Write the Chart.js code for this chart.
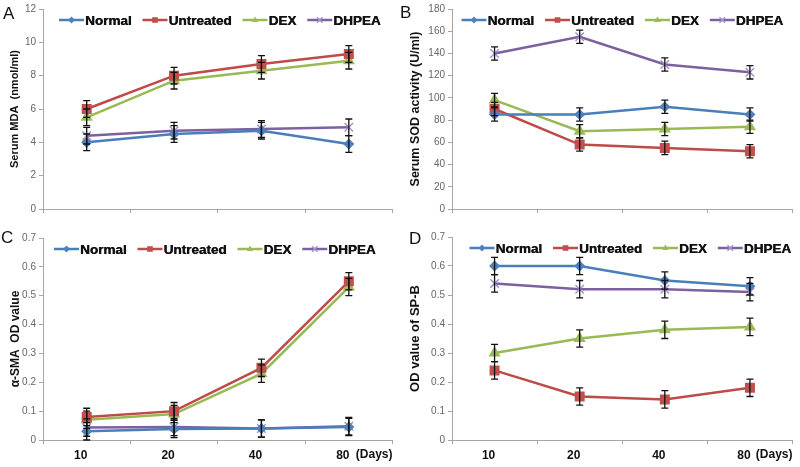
<!DOCTYPE html>
<html lang="en">
<head>
<meta charset="UTF-8">
<title>MDA, SOD, a-SMA and SP-B over time</title>
<script src="https://cdn.jsdelivr.net/npm/chart.js"></script>
<style>
    body {
        margin: 0;
        background: #fff;
        font-family: Arial, "Liberation Sans", sans-serif;
    }
    #page {
        position: relative;
        width: 800px;
        height: 467px;
        overflow: hidden;
    }
    .panel {
        position: absolute;
    }
    .letter {
        position: absolute;
        font-size: 17px;
        line-height: 1;
        color: #111;
    }
</style>
</head>
<body>
<div id="page">
    <div class="panel" style="left:0;top:0;width:400px;height:218px"><canvas id="chartA"></canvas></div>
    <div class="panel" style="left:400px;top:0;width:400px;height:218px"><canvas id="chartB"></canvas></div>
    <div class="panel" style="left:0;top:228px;width:400px;height:239px"><canvas id="chartC"></canvas></div>
    <div class="panel" style="left:400px;top:228px;width:400px;height:239px"><canvas id="chartD"></canvas></div>
    <div class="letter" style="left:3px;top:5px">A</div>
    <div class="letter" style="left:400px;top:4px">B</div>
    <div class="letter" style="left:1px;top:229px">C</div>
    <div class="letter" style="left:409px;top:230px">D</div>
</div>

<script>
    // categories and groups
    const days = ['10', '20', '40', '80'];
    const groups = ['Normal', 'Untreated', 'DEX', 'DHPEA'];
    const daysUnit = '(Days)';

    // A: serum MDA (nmol/ml)
    const mdaNormal = [4.0, 4.5, 4.7, 3.9];
    const mdaUntreated = [6.0, 8.0, 8.7, 9.3];
    const mdaDex = [5.5, 7.7, 8.3, 8.9];
    const mdaDhpea = [4.4, 4.7, 4.8, 4.9];
    const mdaErr = [0.5, 0.5, 0.5, 0.5];

    // B: serum SOD activity (U/ml)
    const sodNormal = [85, 85, 92, 85];
    const sodUntreated = [90, 58, 55, 52];
    const sodDex = [98, 70, 72, 74];
    const sodDhpea = [140, 155, 130, 123];
    const sodErr = [6, 6, 6, 6];

    // C: alpha-SMA OD value
    const smaNormal = [0.03, 0.038, 0.04, 0.045];
    const smaUntreated = [0.08, 0.10, 0.25, 0.55];
    const smaDex = [0.07, 0.09, 0.23, 0.53];
    const smaDhpea = [0.043, 0.045, 0.04, 0.048];
    const smaErr = [0.03, 0.03, 0.03, 0.03];

    // D: OD value of SP-B
    const spbNormal = [0.60, 0.60, 0.55, 0.53];
    const spbUntreated = [0.24, 0.15, 0.14, 0.18];
    const spbDex = [0.30, 0.35, 0.38, 0.39];
    const spbDhpea = [0.54, 0.52, 0.52, 0.51];
    const spbErr = [0.03, 0.03, 0.03, 0.03];

    const lineColors = ['#4A7EBB', '#BE4B48', '#98B954', '#7D60A0'];
    const markerColors = ['#4F81BD', '#C0504D', '#9BBB59', '#A493CC'];
    const markerStyles = ['rectRot', 'rect', 'triangle', 'crossRot'];
    const markerSizes = [4.5, 6, 5.5, 6];
    const axisGrey = '#A6A6A6';
    const fontFamily = 'Arial, "Liberation Sans", sans-serif';

    function drawMarker(ctx, style, x, y, r, color) {
        ctx.save();
        ctx.fillStyle = color;
        ctx.strokeStyle = color;
        ctx.lineWidth = 1.5;
        ctx.beginPath();
        if (style === 'rect') {
            ctx.rect(x - r * 0.8, y - r * 0.8, r * 1.6, r * 1.6);
            ctx.fill();
        } else if (style === 'rectRot') {
            ctx.moveTo(x, y - r);
            ctx.lineTo(x + r, y);
            ctx.lineTo(x, y + r);
            ctx.lineTo(x - r, y);
            ctx.closePath();
            ctx.fill();
        } else if (style === 'triangle') {
            ctx.moveTo(x, y - r);
            ctx.lineTo(x + r * 0.9, y + r * 0.6);
            ctx.lineTo(x - r * 0.9, y + r * 0.6);
            ctx.closePath();
            ctx.fill();
        } else {
            ctx.moveTo(x - r * 0.8, y - r * 0.8);
            ctx.lineTo(x + r * 0.8, y + r * 0.8);
            ctx.moveTo(x + r * 0.8, y - r * 0.8);
            ctx.lineTo(x - r * 0.8, y + r * 0.8);
            ctx.stroke();
        }
        ctx.restore();
    }

    // legend sitting inside the plot area, like the Excel one
    const insideLegend = {
        id: 'insideLegend',
        afterDraw(chart, args, opts) {
            const ctx = chart.ctx;
            const area = chart.chartArea;
            ctx.save();
            ctx.font = 'bold 13.5px ' + fontFamily;
            const lineLen = 25, gap = 1, spacing = 11;
            const items = chart.data.datasets.map(ds => ({
                ds: ds,
                w: lineLen + gap + ctx.measureText(ds.label).width
            }));
            const total = items.reduce((s, it) => s + it.w, 0) + spacing * (items.length - 1);
            let x = (area.left + area.right) / 2 - total / 2 + (opts.dx || 0);
            const y = area.top + 11;
            items.forEach((it, i) => {
                ctx.strokeStyle = it.ds.borderColor;
                ctx.lineWidth = 2.5;
                ctx.beginPath();
                ctx.moveTo(x, y);
                ctx.lineTo(x + lineLen, y);
                ctx.stroke();
                drawMarker(ctx, markerStyles[i], x + lineLen / 2, y, 3.5, markerColors[i]);
                ctx.fillStyle = '#111';
                ctx.textBaseline = 'middle';
                ctx.textAlign = 'left';
                ctx.fillText(it.ds.label, x + lineLen + gap, y + 1);
                // second pass, slightly offset, for a heavier look
                ctx.fillText(it.ds.label, x + lineLen + gap + 0.4, y + 1);
                x += it.w + spacing;
            });
            ctx.restore();
        }
    };

    // vertical error bars from each dataset's errors array
    const errorBars = {
        id: 'errorBars',
        afterDatasetsDraw(chart) {
            const ctx = chart.ctx;
            const yScale = chart.scales.y;
            ctx.save();
            ctx.strokeStyle = '#111';
            ctx.lineWidth = 1.3;
            chart.data.datasets.forEach((ds, i) => {
                const meta = chart.getDatasetMeta(i);
                meta.data.forEach((pt, j) => {
                    const v = ds.data[j], e = ds.errors[j];
                    const top = yScale.getPixelForValue(v + e);
                    const bot = yScale.getPixelForValue(v - e);
                    ctx.beginPath();
                    ctx.moveTo(pt.x, top);
                    ctx.lineTo(pt.x, bot);
                    ctx.moveTo(pt.x - 3.5, top);
                    ctx.lineTo(pt.x + 3.5, top);
                    ctx.moveTo(pt.x - 3.5, bot);
                    ctx.lineTo(pt.x + 3.5, bot);
                    ctx.stroke();
                });
            });
            ctx.restore();
        }
    };

    const unitLabel = {
        id: 'unitLabel',
        afterDraw(chart, args, opts) {
            if (!opts.text) return;
            const ctx = chart.ctx;
            ctx.save();
            ctx.font = 'bold 12px ' + fontFamily;
            ctx.fillStyle = '#111';
            ctx.textAlign = 'right';
            ctx.textBaseline = 'middle';
            ctx.fillText(opts.text, chart.chartArea.right, opts.y);
            ctx.restore();
        }
    };

    function makeChart(id, cfg) {
        const seriesData = cfg.series;
        new Chart(document.getElementById(id), {
            type: 'line',
            data: {
                labels: days,
                datasets: groups.map((name, i) => ({
                    label: name,
                    data: seriesData[i],
                    errors: cfg.err,
                    borderColor: lineColors[i],
                    backgroundColor: markerColors[i],
                    borderWidth: 2.5,
                    pointStyle: markerStyles[i],
                    pointRadius: markerSizes[i],
                    pointBorderColor: markerColors[i],
                    pointBackgroundColor: markerColors[i],
                    pointBorderWidth: 1.5,
                    tension: 0
                }))
            },
            options: {
                responsive: true,
                maintainAspectRatio: false,
                animation: false,
                layout: { padding: { top: cfg.padTop, right: 5, left: 0, bottom: 0 } },
                plugins: {
                    legend: { display: false },
                    tooltip: { enabled: false },
                    insideLegend: { dx: cfg.legendDx },
                    unitLabel: { text: cfg.showX ? daysUnit : '', y: cfg.unitY }
                },
                scales: {
                    x: {
                        offset: true,
                        grid: { offset: true, drawOnChartArea: false, tickLength: 4, color: axisGrey },
                        border: { color: axisGrey },
                        ticks: {
                            display: cfg.showX,
                            color: '#111',
                            font: { size: 12, weight: 'bold', family: fontFamily },
                            padding: 4,
                            labelOffset: -6
                        },
                        afterFit: s => { s.height = cfg.xH; }
                    },
                    y: {
                        min: 0,
                        max: cfg.max,
                        ticks: {
                            stepSize: cfg.step,
                            color: '#666',
                            font: { size: 10, family: fontFamily },
                            padding: 3
                        },
                        grid: { drawOnChartArea: false, tickLength: 4, color: axisGrey },
                        border: { color: axisGrey },
                        title: {
                            display: true,
                            text: cfg.title,
                            color: '#111',
                            font: { size: cfg.titleSize, weight: 'bold', family: fontFamily },
                            padding: { top: 8, bottom: 0 }
                        },
                        afterFit: s => { s.width = cfg.yW; }
                    }
                }
            },
            plugins: [errorBars, insideLegend, unitLabel]
        });
    }

    makeChart('chartA', {
        series: [mdaNormal, mdaUntreated, mdaDex, mdaDhpea], err: mdaErr,
        max: 12, step: 2, title: 'Serum MDA  (nmol/ml)', titleSize: 11,
        yW: 43, xH: 8, padTop: 0, showX: false, legendDx: 2
    });
    makeChart('chartB', {
        series: [sodNormal, sodUntreated, sodDex, sodDhpea], err: sodErr,
        max: 180, step: 20, title: 'Serum SOD activity (U/ml)', titleSize: 12.5,
        yW: 52, xH: 8, padTop: 0, showX: false, legendDx: 0
    });
    makeChart('chartC', {
        series: [smaNormal, smaUntreated, smaDex, smaDhpea], err: smaErr,
        max: 0.7, step: 0.1, title: 'α-SMA  OD value', titleSize: 12,
        yW: 43, xH: 27, padTop: 10, showX: true, legendDx: -3, unitY: 227
    });
    makeChart('chartD', {
        series: [spbNormal, spbUntreated, spbDex, spbDhpea], err: spbErr,
        max: 0.7, step: 0.1, title: 'OD value of SP-B', titleSize: 13,
        yW: 52, xH: 27, padTop: 9, showX: true, legendDx: 8, unitY: 227
    });
</script>
</body>
</html>
